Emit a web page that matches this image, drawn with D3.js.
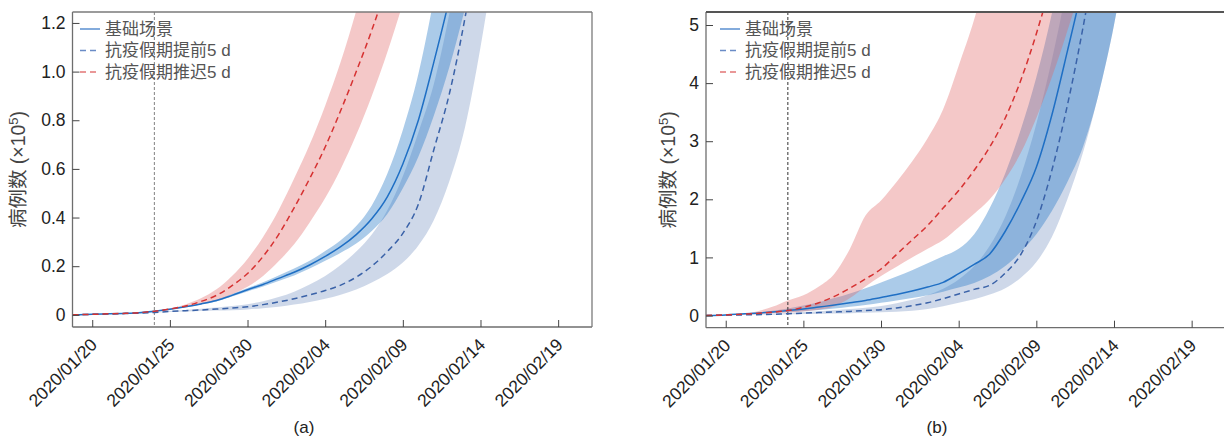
<!DOCTYPE html>
<html>
<head>
<meta charset="utf-8">
<script src="https://cdn.jsdelivr.net/npm/d3@7"></script>
<style>
body{margin:0;background:#fff}
svg{display:block;font-family:'Liberation Sans',Arial,'Noto Sans CJK SC',sans-serif}
</style>
</head>
<body>
<svg id="chart" width="1224" height="439"></svg>
<script>
/*days since 2020/01/20, first point = left edge of plot*/
const days = [-1.27,0,1,2,3,4,5,6,7,8,9,10,11,12,13,14,15,16,17,18,19,20,21,22,23,24,25,26]
const x_domain = [-1.27,32.18]
const x_ticks = [0,5,10,15,20,25,30]
const x_labels = ['2020/01/20','2020/01/25','2020/01/30','2020/02/04','2020/02/09','2020/02/14','2020/02/19']
const cutoff_day = 4 // 2020/01/24

const series_names = ['基础场景','抗疫假期提前5 d','抗疫假期推迟5 d']

/*panel (a), x10^5 cases*/
const a_ticks = [0,0.2,0.4,0.6,0.8,1.0,1.2]
const a_labels = ['0','0.2','0.4','0.6','0.8','1.0','1.2']
const a_base    = [0,0.002,0.004,0.006,0.009,0.015,0.023,0.033,0.045,0.059,0.08,0.103,0.125,0.15,0.175,0.205,0.24,0.28,0.33,0.395,0.485,0.62,0.8,1.04,1.3,1.6,2.0,2.5]
const a_base_lo = [0,0.002,0.004,0.006,0.009,0.014,0.022,0.031,0.042,0.055,0.075,0.096,0.116,0.139,0.162,0.19,0.222,0.255,0.293,0.345,0.415,0.52,0.65,0.82,1.02,1.26,1.55,1.95]
const a_base_hi = [0,0.002,0.004,0.006,0.009,0.016,0.024,0.035,0.048,0.063,0.086,0.11,0.134,0.162,0.19,0.222,0.262,0.307,0.365,0.45,0.58,0.76,0.99,1.3,1.65,2.05,2.5,3.0]
const a_early    = [0,0.002,0.003,0.005,0.007,0.01,0.014,0.017,0.02,0.024,0.028,0.033,0.042,0.053,0.066,0.082,0.1,0.122,0.155,0.2,0.26,0.335,0.455,0.68,0.91,1.22,1.6,2.1]
const a_early_lo = [0,0.002,0.003,0.004,0.006,0.009,0.012,0.014,0.016,0.018,0.019,0.022,0.027,0.033,0.042,0.053,0.066,0.083,0.104,0.133,0.168,0.215,0.285,0.39,0.55,0.77,1.1,1.5]
const a_early_hi = [0,0.002,0.003,0.006,0.008,0.011,0.016,0.02,0.025,0.03,0.036,0.044,0.056,0.073,0.095,0.125,0.16,0.205,0.26,0.33,0.43,0.57,0.75,0.95,1.24,1.6,2.1,2.7]
const a_late    = [0,0.002,0.004,0.006,0.009,0.015,0.024,0.036,0.055,0.08,0.12,0.17,0.24,0.33,0.44,0.56,0.69,0.84,1.0,1.17,1.36,1.58,1.85,2.1,2.4,2.7,3.0,3.4]
const a_late_lo = [0,0.002,0.004,0.006,0.009,0.014,0.022,0.031,0.044,0.06,0.085,0.115,0.16,0.22,0.29,0.38,0.48,0.6,0.74,0.9,1.08,1.28,1.5,1.75,2.0,2.3,2.6,3.0]
const a_late_hi = [0,0.002,0.004,0.006,0.009,0.016,0.027,0.043,0.068,0.105,0.16,0.23,0.32,0.43,0.56,0.7,0.86,1.04,1.25,1.48,1.72,2.0,2.3,2.6,2.9,3.2,3.5,3.9]

/*panel (b)*/
const b_ticks = [0,1,2,3,4,5]
const b_labels = ['0','1','2','3','4','5']
const b_base    = [0,0.01,0.025,0.04,0.06,0.085,0.11,0.145,0.18,0.22,0.26,0.31,0.36,0.42,0.49,0.57,0.72,0.88,1.06,1.45,1.95,2.55,3.45,4.55,5.7,7.0,8.5,10]
const b_base_lo = [0,0.008,0.02,0.03,0.045,0.06,0.075,0.095,0.12,0.15,0.18,0.22,0.26,0.3,0.35,0.41,0.48,0.56,0.68,0.85,1.1,1.4,1.8,2.3,2.9,3.8,5.0,6.5]
const b_base_hi = [0,0.012,0.03,0.05,0.08,0.12,0.17,0.23,0.3,0.38,0.47,0.57,0.67,0.78,0.9,1.02,1.15,1.4,1.85,2.45,3.2,4.1,5.2,6.5,8,9.5,11,13]
const b_early    = [0,0.005,0.01,0.015,0.02,0.03,0.04,0.05,0.06,0.07,0.085,0.1,0.13,0.17,0.22,0.29,0.37,0.45,0.52,0.73,1.05,1.62,2.5,3.62,4.95,6.5,8.2,10]
const b_early_lo = [0,0.004,0.008,0.012,0.015,0.02,0.025,0.03,0.035,0.04,0.048,0.055,0.065,0.08,0.11,0.16,0.22,0.28,0.36,0.47,0.65,0.92,1.35,2.0,2.8,3.8,5.0,6.6]
const b_early_hi = [0,0.006,0.012,0.02,0.03,0.045,0.06,0.075,0.09,0.11,0.135,0.165,0.21,0.27,0.35,0.46,0.62,0.85,1.2,1.7,2.4,3.3,4.4,5.7,7.2,9,11,13]
const b_late    = [0,0.01,0.02,0.035,0.055,0.085,0.14,0.22,0.33,0.47,0.63,0.8,1.05,1.3,1.55,1.85,2.15,2.5,2.9,3.4,4.05,4.85,5.8,7.0,8.3,9.8,11.5,13.5]
const b_late_lo = [0,0.008,0.016,0.025,0.035,0.05,0.07,0.1,0.16,0.3,0.5,0.68,0.84,1.0,1.15,1.3,1.52,1.75,2.0,2.35,2.8,3.4,4.1,4.9,5.8,7,8.5,10]
const b_late_hi = [0,0.012,0.03,0.07,0.15,0.26,0.35,0.5,0.72,1.15,1.72,1.98,2.3,2.65,3.05,3.55,4.3,5.1,6.1,7.3,8.5,10,11.5,13,15,17,19,21]

const svg = d3.select('#chart')

const panels = [
	{
		id:'a', left:72.5, right:592, top:12, bottom:327, ydom:[-0.05,1.245],
		yticks:a_ticks, ylabels:a_labels,
		base:[a_base,a_base_lo,a_base_hi], early:[a_early,a_early_lo,a_early_hi], late:[a_late,a_late_lo,a_late_hi],
		title_x:18, tag:'(a)', tag_x:304, legend_x:80, frame_right:true, cut_color:'#808080'
	},
	{
		id:'b', left:706, right:1225.5, top:12, bottom:327.7, ydom:[-0.21,5.224],
		yticks:b_ticks, ylabels:b_labels,
		base:[b_base,b_base_lo,b_base_hi], early:[b_early,b_early_lo,b_early_hi], late:[b_late,b_late_lo,b_late_hi],
		title_x:668, tag:'(b)', tag_x:937, legend_x:720, frame_right:false, cut_color:'#333'
	}
]

const legend_y = [29,50.5,72]
const legend_style = [
	{color:'#5a8fd0',dash:null},
	{color:'#6a8cc6',dash:'6,4'},
	{color:'#e27676',dash:'6,4'}
]

const make_panel = (p)=>{
	const x = d3.scaleLinear().domain(x_domain).range([p.left,p.right])
	const y = d3.scaleLinear().domain(p.ydom).range([p.bottom,p.top])

	const g = svg.append('g').classed(`panel_${p.id}`,true)

	g.append('clipPath')
		.attr('id',`clip_${p.id}`)
		.append('rect')
		.attr('x',p.left)
		.attr('y',p.top)
		.attr('width',p.right - p.left)
		.attr('height',p.bottom - p.top)

	const plot = g.append('g').attr('clip-path',`url(#clip_${p.id})`)

	const band = (lo,hi) => d3.area()
		.curve(d3.curveMonotoneX)
		.x((d,i) => x(days[i]))
		.y0((d,i) => y(lo[i]))
		.y1((d,i) => y(hi[i]))(days)

	const line = vals => d3.line()
		.curve(d3.curveMonotoneX)
		.x((d,i) => x(days[i]))
		.y((d,i) => y(vals[i]))(days)

	/*bands: early, base, late (pink on top)*/
	plot.append('path').attr('d',band(p.early[1],p.early[2])).attr('fill','#4a6fae').attr('fill-opacity',0.27)
	plot.append('path').attr('d',band(p.base[1],p.base[2])).attr('fill','#2e7ec8').attr('fill-opacity',0.4)
	plot.append('path').attr('d',band(p.late[1],p.late[2])).attr('fill','#e06666').attr('fill-opacity',0.36)

	//vertical marker 2020/01/24
	plot.append('line')
		.attr('x1',x(cutoff_day)).attr('x2',x(cutoff_day))
		.attr('y1',p.top).attr('y2',p.bottom)
		.attr('stroke',p.cut_color)
		.attr('stroke-width',1)
		.attr('stroke-dasharray','3,2')

	plot.append('path').attr('d',line(p.base[0]))
		.attr('fill','none').attr('stroke','#1f6fc4').attr('stroke-width',1.5)
	plot.append('path').attr('d',line(p.early[0]))
		.attr('fill','none').attr('stroke','#3a62a8').attr('stroke-width',1.5).attr('stroke-dasharray','6,4')
	plot.append('path').attr('d',line(p.late[0]))
		.attr('fill','none').attr('stroke','#d63232').attr('stroke-width',1.5).attr('stroke-dasharray','6,4')

	/*frame*/
	g.append('line').attr('x1',p.left).attr('x2',p.left).attr('y1',p.top).attr('y2',p.bottom)
		.attr('stroke','#6e6e6e').attr('stroke-width',1.3)
	g.append('line').attr('x1',p.left).attr('x2',p.right).attr('y1',p.bottom).attr('y2',p.bottom)
		.attr('stroke','#6e6e6e').attr('stroke-width',1.3)
	g.append('line').attr('x1',p.left).attr('x2',p.right).attr('y1',p.top).attr('y2',p.top)
		.attr('stroke',p.frame_right ? '#7a7a7a' : '#555').attr('stroke-width',p.frame_right ? 1.3 : 1.8)
	if(p.frame_right){
		g.append('line').attr('x1',p.right).attr('x2',p.right).attr('y1',p.top).attr('y2',p.bottom)
			.attr('stroke','#7a7a7a').attr('stroke-width',1.3)
	}

	const axisX = g.append('g')
		.attr('transform',`translate(0,${p.bottom})`)
		.call(
			d3.axisBottom(x)
			.tickValues(x_ticks)
			.tickFormat((d,i) => x_labels[i])
			.tickSizeInner(-7)
			.tickSizeOuter(0)
		)
		.attr('font-size',17.5)
		.attr('font-family',null)
		.attr('color','#222')
	axisX.select('.domain').remove()
	axisX.selectAll('.tick line').attr('stroke','#444')
	axisX.selectAll('.tick text')
		.attr('x',0).attr('y',0)
		.attr('dy','0.35em')
		.attr('text-anchor','end')
		.attr('transform','translate(1,14.5) rotate(-45)')

	const axisY = g.append('g')
		.attr('transform',`translate(${p.left},0)`)
		.call(
			d3.axisLeft(y)
			.tickValues(p.yticks)
			.tickFormat((d,i) => p.ylabels[i])
			.tickSizeInner(-7)
			.tickSizeOuter(0)
			.tickPadding(7)
		)
		.attr('font-size',17.5)
		.attr('font-family',null)
		.attr('color','#222')
	axisY.select('.domain').remove()
	axisY.selectAll('.tick line').attr('stroke','#444')

	//y title
	const title = g.append('text')
		.attr('transform',`translate(${p.title_x},${(p.top + p.bottom) / 2}) rotate(-90)`)
		.attr('text-anchor','middle')
		.attr('dy','0.35em')
		.attr('font-size',19.5)
		.attr('fill','#444')
	title.append('tspan').text('病例数 (×10')
	title.append('tspan').text('5').attr('font-size',13).attr('dy','-0.55em')
	title.append('tspan').text(')').attr('dy','0.37em')

	//legend
	series_names.forEach((name,i)=>{
		g.append('line')
			.attr('x1',p.legend_x).attr('x2',p.legend_x + 20)
			.attr('y1',legend_y[i]).attr('y2',legend_y[i])
			.attr('stroke',legend_style[i].color)
			.attr('stroke-width',1.5)
			.attr('stroke-dasharray',legend_style[i].dash)
		g.append('text')
			.attr('x',p.legend_x + 25)
			.attr('y',legend_y[i])
			.attr('dy','0.35em')
			.attr('font-size',17)
			.attr('fill','#555')
			.text(name)
	})

	g.append('text')
		.attr('x',p.tag_x)
		.attr('y',433)
		.attr('text-anchor','middle')
		.attr('font-size',17)
		.attr('fill','#222')
		.text(p.tag)
}

panels.forEach(make_panel)
</script>
</body>
</html>
